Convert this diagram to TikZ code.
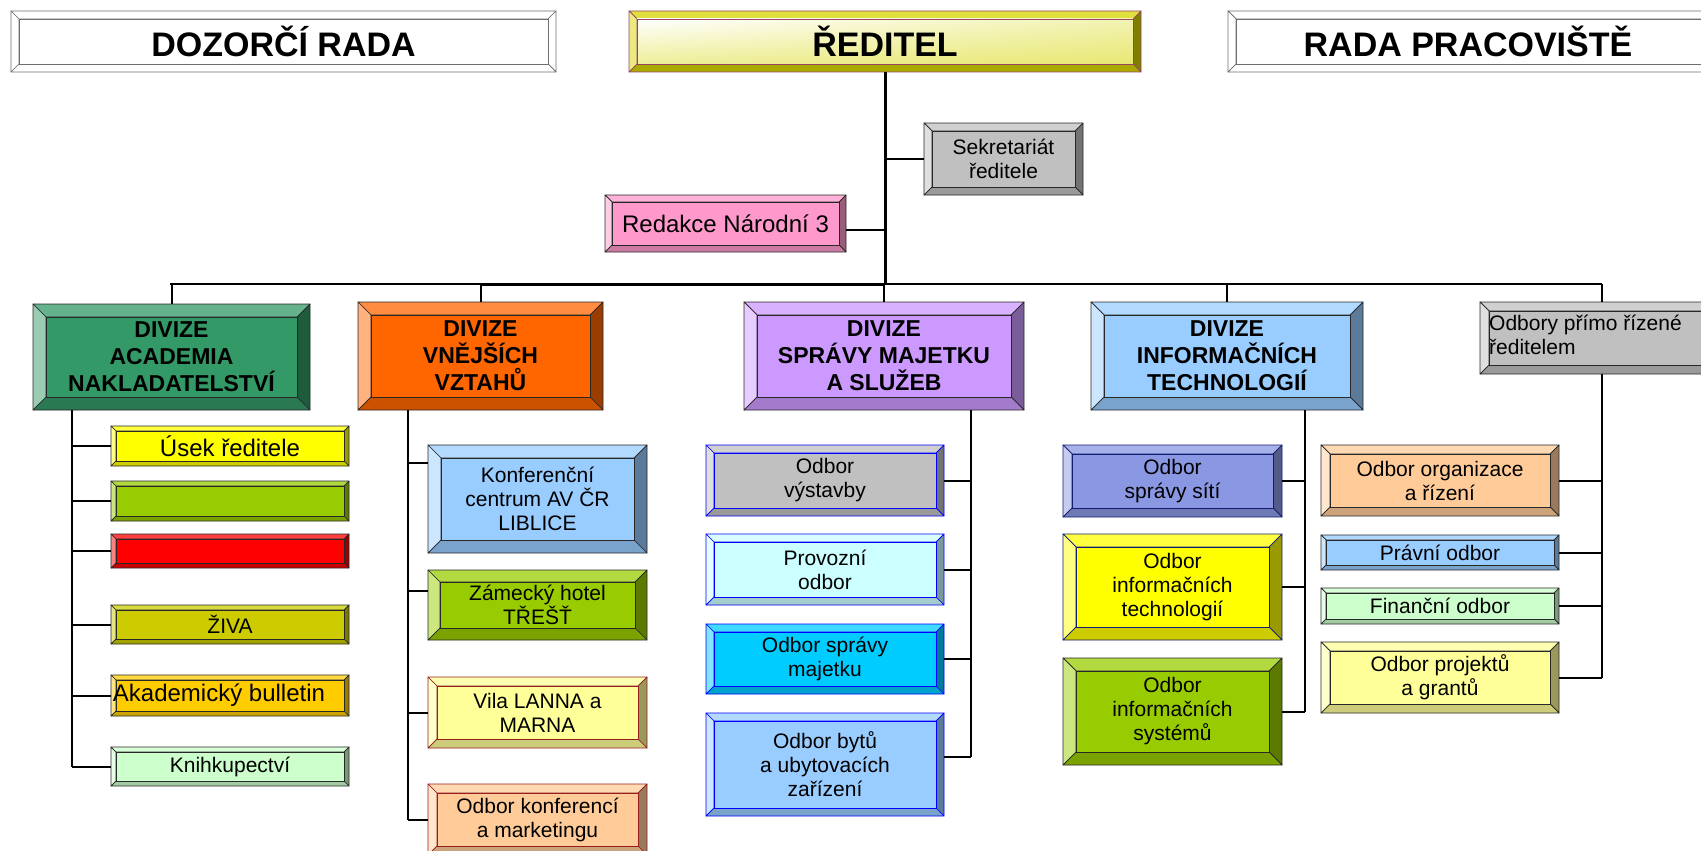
\documentclass[tikz,border=0pt]{standalone}
\usepackage{fontspec}
\setmainfont{Liberation Sans}
\usetikzlibrary{calc,shadings}
\definecolor{cAcad}{HTML}{339966}
\definecolor{cVne}{HTML}{FF6600}
\definecolor{cSpr}{HTML}{CC99FF}
\definecolor{cInf}{HTML}{99CCFF}
\definecolor{cGray}{HTML}{C0C0C0}
\definecolor{cPink}{HTML}{FF99CC}
\definecolor{cYel}{HTML}{FFFF00}
\definecolor{cLime}{HTML}{99CC00}
\definecolor{cRed}{HTML}{FF0000}
\definecolor{cOlive}{HTML}{CCCC00}
\definecolor{cGold}{HTML}{FFCC00}
\definecolor{cMint}{HTML}{CCFFCC}
\definecolor{cLtYel}{HTML}{FFFF99}
\definecolor{cPeach}{HTML}{FFCC99}
\definecolor{cCyanLt}{HTML}{CCFFFF}
\definecolor{cSky}{HTML}{00CCFF}
\definecolor{cPeri}{RGB}{138,151,227}
\definecolor{cDir}{RGB}{213,213,0}
\definecolor{bdr}{RGB}{40,40,40}
\definecolor{bdrRed}{RGB}{150,30,30}
\definecolor{bdrBlue}{RGB}{0,0,255}
\definecolor{bdrNavy}{RGB}{20,30,110}
\definecolor{bdrDir}{RGB}{150,70,100}
\definecolor{bdrGray}{RGB}{110,110,110}
\colorlet{dirUL}{white}
\colorlet{dirUR}{cDir!30!white}
\colorlet{dirLL}{cDir!40!white}
\colorlet{dirLR}{cDir!55!white}
% bevelled box: name x1 y1 x2 y2 bevel border ; colours bvI bvT bvL bvR bvB
\newcommand\bevelbox[7]{%
  \filldraw[fill=bvT,draw=#7,line width=0.7pt,line join=round] (#2,#3) -- (#4,#3) -- ({#4-#6},{#3+#6}) -- ({#2+#6},{#3+#6}) -- cycle;
  \filldraw[fill=bvL,draw=#7,line width=0.7pt,line join=round] (#2,#3) -- ({#2+#6},{#3+#6}) -- ({#2+#6},{#5-#6}) -- (#2,#5) -- cycle;
  \filldraw[fill=bvR,draw=#7,line width=0.7pt,line join=round] (#4,#3) -- (#4,#5) -- ({#4-#6},{#5-#6}) -- ({#4-#6},{#3+#6}) -- cycle;
  \filldraw[fill=bvB,draw=#7,line width=0.7pt,line join=round] (#2,#5) -- (#4,#5) -- ({#4-#6},{#5-#6}) -- ({#2+#6},{#5-#6}) -- cycle;
  \filldraw[fill=bvI,draw=#7,line width=0.7pt] ({#2+#6},{#3+#6}) rectangle ({#4-#6},{#5-#6});
  \node[inner sep=0pt,minimum width={#4-#2},minimum height={#5-#3}] (#1) at ({(#2+#4)/2},{(#3+#5)/2}) {};
}
\newcommand\setbev[1]{\colorlet{bvI}{#1}\colorlet{bvT}{#1!75!white}\colorlet{bvL}{#1!50!white}\colorlet{bvR}{#1!60!black}\colorlet{bvB}{#1!80!black}}
\newcommand\bbox[8]{\setbev{#7}\bevelbox{#1}{#2}{#3}{#4}{#5}{#6}{#8}}
\tikzset{
  txt/.style={font=\fontsize{21}{24}\selectfont,align=center,inner sep=0pt},
  txtl/.style={font=\fontsize{24}{27}\selectfont,align=center,inner sep=0pt},
  txtb/.style={font=\fontsize{23}{27}\selectfont\bfseries,align=center,inner sep=0pt},
  big/.style={font=\fontsize{34}{40}\selectfont\bfseries,inner sep=0pt},
  ln/.style={line width=2pt,black},
  mainln/.style={line width=3pt,black}
}
\begin{document}
\begin{tikzpicture}[x=1pt,y=-1pt]
\useasboundingbox (0,0) rectangle (1701,851);
\clip (0,0) rectangle (1701,851);
% coordinates for connector lines
\coordinate (busL) at (170,284);
\coordinate (busR) at (1602,284);
\coordinate (acX) at (72,0);
\coordinate (vnX) at (408,0);
\coordinate (spX) at (971,0);
\coordinate (infX) at (1305,0);
\coordinate (odbX) at (1602,0);
% ---------- top row
\colorlet{bvI}{white}\colorlet{bvT}{white}\colorlet{bvL}{white}\colorlet{bvR}{white}\colorlet{bvB}{white}
\bevelbox{dozor}{11}{11}{556}{72}{8}{bdrGray}
\bevelbox{rada}{1228}{11}{1712}{72}{8}{bdrGray}
\setbev{cDir}
\bevelbox{dir}{629}{11}{1141}{72}{8}{bdrDir}
\shade[upper left=dirUL,upper right=dirUR,lower left=dirLL,lower right=dirLR] (637,19) rectangle (1133,64);
\draw[bdrDir,line width=0.7pt] (637,19) rectangle (1133,64);
\node[big] (dozor-t) at (dozor) {DOZORČÍ RADA};
\node[big] (dir-t) at (dir) {ŘEDITEL};
\node[big] (rada-t) at (1468,41) {RADA PRACOVIŠTĚ};
% ---------- staff
\bbox{sek}{924}{123}{1083}{195}{8}{cGray}{bdr}
\node[txt] (sek-t) at (sek) {Sekretariát\\ředitele};
\bbox{red}{605}{195}{846}{252}{7}{cPink}{bdr}
\node[txtl] (red-t) at (red) {Redakce Národní 3};
% ---------- divisions
\bbox{acad}{33}{304}{310}{410}{13}{cAcad}{bdr}
\node[txtb] (acad-t) at (acad) {DIVIZE\\ACADEMIA\\NAKLADATELSTVÍ};
\bbox{vne}{358}{302}{603}{410}{13}{cVne}{bdr}
\node[txtb] (vne-t) at (vne) {DIVIZE\\VNĚJŠÍCH\\VZTAHŮ};
\bbox{spr}{744}{302}{1024}{410}{13}{cSpr}{bdr}
\node[txtb] (spr-t) at (spr) {DIVIZE\\SPRÁVY MAJETKU\\A SLUŽEB};
\bbox{inf}{1091}{302}{1363}{410}{13}{cInf}{bdr}
\node[txtb] (inf-t) at (inf) {DIVIZE\\INFORMAČNÍCH\\TECHNOLOGIÍ};
\bbox{odb}{1480}{302}{1715}{374}{9}{cGray}{bdr}
\node[txt,align=left,anchor=north west] (odb-t) at (1489,315) {Odbory přímo řízené\\ředitelem};
% ---------- Academia
\bbox{usek}{111}{426}{349}{466}{5}{cYel}{bdr}
\node[txtl] (usek-t) at (usek) {Úsek ředitele};
\bbox{s2}{111}{481}{349}{521}{5}{cLime}{bdr}
\bbox{s3}{111}{534}{349}{568}{5}{cRed}{bdr}
\bbox{ziva}{111}{605}{349}{644}{5}{cOlive}{bdr}
\node[txt] (ziva-t) at (ziva) {ŽIVA};
\bbox{akad}{111}{675}{349}{716}{5}{cGold}{bdr}
\node[txtl] (akad-t) at ($(akad)+(-11,0)$) {Akademický bulletin};
\bbox{knih}{111}{747}{349}{786}{5}{cMint}{bdr}
\node[txt] (knih-t) at (knih) {Knihkupectví};
% ---------- Vnejsi vztahy
\bbox{konf}{428}{445}{647}{553}{13}{cInf}{bdr}
\node[txt] (konf-t) at (konf) {Konferenční\\centrum AV ČR\\LIBLICE};
\bbox{zam}{428}{570}{647}{640}{12}{cLime}{bdr}
\node[txt] (zam-t) at (zam) {Zámecký hotel\\TŘEŠŤ};
\bbox{vila}{428}{677}{647}{748}{9}{cLtYel}{bdrRed}
\node[txt] (vila-t) at (vila) {Vila LANNA a\\MARNA};
\bbox{okon}{428}{784}{647}{855}{9}{cPeach}{bdrRed}
\node[txt] (okon-t) at (okon) {Odbor konferencí\\a marketingu};
% ---------- Sprava majetku
\bbox{vyst}{706}{445}{944}{516}{8}{cGray}{bdrBlue}
\node[txt] (vyst-t) at (vyst) {Odbor\\výstavby};
\bbox{prov}{706}{534}{944}{605}{8}{cCyanLt}{bdrBlue}
\node[txt] (prov-t) at (prov) {Provozní\\odbor};
\bbox{maj}{706}{624}{944}{694}{8}{cSky}{bdrBlue}
\node[txt] (maj-t) at (maj) {Odbor správy\\majetku};
\bbox{byt}{706}{713}{944}{816}{8}{cInf}{bdrBlue}
\node[txt] (byt-t) at (byt) {Odbor bytů\\a ubytovacích\\zařízení};
% ---------- Informacni technologie
\bbox{site}{1063}{445}{1282}{517}{9}{cPeri}{bdrNavy}
\node[txt] (site-t) at (site) {Odbor\\správy sítí};
\bbox{tech}{1063}{534}{1282}{640}{13}{cYel}{bdrNavy}
\node[txt] (tech-t) at (tech) {Odbor\\informačních\\technologií};
\bbox{sys}{1063}{658}{1282}{765}{13}{cLime}{bdr}
\node[txt] (sys-t) at (sys) {Odbor\\informačních\\systémů};
% ---------- Odbory primo rizene
\bbox{org}{1321}{445}{1559}{516}{9}{cPeach}{bdr}
\node[txt] (org-t) at (org) {Odbor organizace\\a řízení};
\bbox{prav}{1321}{535}{1559}{570}{5}{cInf}{bdr}
\node[txt] (prav-t) at (prav) {Právní odbor};
\bbox{fin}{1321}{588}{1559}{624}{5}{cMint}{bdr}
\node[txt] (fin-t) at (fin) {Finanční odbor};
\bbox{proj}{1321}{642}{1559}{713}{9}{cLtYel}{bdr}
\node[txt] (proj-t) at (proj) {Odbor projektů\\a grantů};
% ---------- connectors
\coordinate (konfC) at ($(konf.north west)+(0,18)$);
\coordinate (zamC) at ($(zam.north west)+(0,21)$);
\coordinate (bytC) at ($(byt.north east)+(0,44)$);
\coordinate (redC) at ($(red.east)+(0,6)$);
\draw[mainln] (dir.south) -- (dir.south |- busL);
\draw[ln] (dir.south |- sek.west) -- (sek.west);
\draw[ln] (redC) -- (redC -| dir.south);
\draw[ln] (busL) -- (busR);
\draw[mainln] (vne.north |- busL) -- (dir.south |- busL);
\draw[ln] (acad.north) -- (acad.north |- busL);
\draw[ln] (vne.north) -- (vne.north |- busL);
\draw[ln] (spr.north) -- (spr.north |- busL);
\draw[ln] (inf.north) -- (inf.north |- busL);
\draw[ln] (busR) -- (busR |- odb.north);
% Academia
\draw[ln] (acX |- acad.south) -- (acX |- knih.west);
\foreach \n in {usek,s2,s3,ziva,akad,knih} \draw[ln] (acX |- \n.west) -- (\n.west);
% Vnejsi
\draw[ln] (vnX |- vne.south) -- (vnX |- okon.west);
\draw[ln] (vnX |- konfC) -- (konfC);
\draw[ln] (vnX |- zamC) -- (zamC);
\draw[ln] (vnX |- vila.west) -- (vila.west);
\draw[ln] (vnX |- okon.west) -- (okon.west);
% Sprava
\draw[ln] (spX |- spr.south) -- (spX |- bytC);
\foreach \n in {vyst,prov,maj} \draw[ln] (\n.east) -- (\n.east -| spX);
\draw[ln] (bytC) -- (spX |- bytC);
% Informacni
\draw[ln] (infX |- inf.south) -- (infX |- sys.east);
\foreach \n in {site,tech,sys} \draw[ln] (\n.east) -- (\n.east -| infX);
% Odbory primo
\draw[ln] (odbX |- odb.south) -- (odbX |- proj.east);
\foreach \n in {org,prav,fin,proj} \draw[ln] (\n.east) -- (\n.east -| odbX);
\end{tikzpicture}
\end{document}
